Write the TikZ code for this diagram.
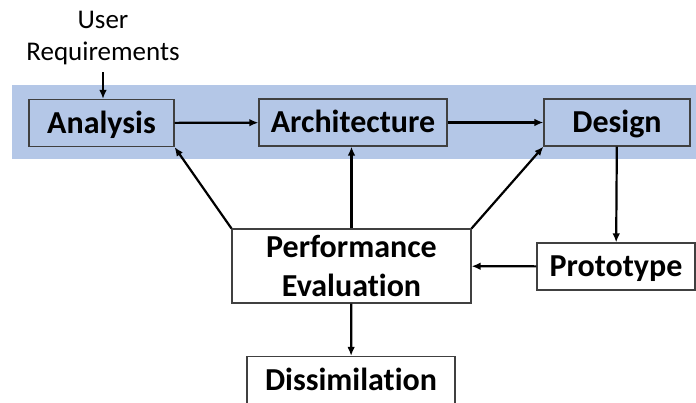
\documentclass[tikz,border=0pt]{standalone}
\usepackage{fontspec}
\setmainfont[Ligatures=NoCommon]{Carlito}
\usetikzlibrary{arrows.meta,positioning}
\definecolor{bandblue}{RGB}{180,199,231}

\begin{document}
\begin{tikzpicture}[x=1pt, y=-1pt,
  stage/.style = {draw = black!75, line width = 1.1pt, shape = rectangle, inner sep = 0pt, minimum height = 47pt, text height = 20.6pt, text depth = 0pt, font = \fontsize{32}{39}\selectfont\bfseries},
  bigstage/.style = {draw = black!75, line width = 1.1pt, shape = rectangle, inner sep = 0pt, align = center, font = \fontsize{32}{39}\selectfont\bfseries},
  flow/.style = {line width = 2.2pt, -{Latex[length = 9pt, width = 7.5pt]}}]
\useasboundingbox (0,0) rectangle (696,402);
\clip (0,0) rectangle (696,402);
\fill[bandblue] (12,85) rectangle (696,159);
\node[align = center, font = \fontsize{27}{32}\selectfont, text height = 17.4pt, text depth = 0pt] (ur) at (103,51.5) {User\\Requirements};
\coordinate (urend) at (103,72);
\node[stage, minimum width = 145pt] (an) at (101.5,123) {Analysis};
\node[stage, minimum width = 188pt] (ar) at (353,122.5) {Architecture};
\node[stage, minimum width = 146pt] (de) at (617,122.5) {Design};
\node[stage, minimum width = 158pt, fill = white] (pr) at (616,266.5) {Prototype};
\node[bigstage, minimum width = 239pt, minimum height = 74pt, fill = white] (pe) at (351.5,266) {Performance\\Evaluation};
\node[stage, minimum width = 208pt, fill = white] (di) at (351,380) {Dissimilation};
\draw[flow] (urend) -- (urend |- an.north);
\draw[flow] (an) -- (ar);
\draw[flow] (ar) -- (de);
\draw[flow] (de) -- (pr);
\draw[flow] (pr) -- (pe);
\draw[flow] (pe) -- (di);
\draw[flow] (pe.north west) -- (an.south east);
\draw[flow] (pe.north) -- (pe.north |- ar.south);
\draw[flow] (pe.north east) -- (de.south west);
\end{tikzpicture}
\end{document}
